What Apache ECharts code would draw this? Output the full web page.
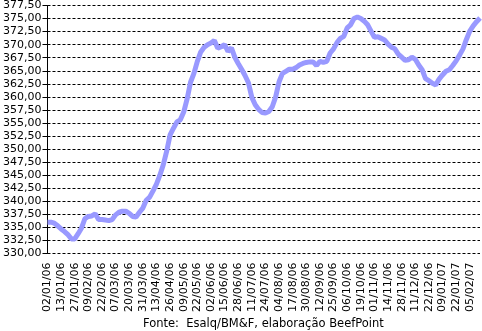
<!DOCTYPE html>
<html>
<head>
<meta charset="utf-8">
<script src="https://cdn.jsdelivr.net/npm/echarts@6/dist/echarts.min.js"></script>
<style>
  html, body { margin: 0; padding: 0; background: #fff; }
  #myChart { width: 482px; height: 331px; }
</style>
</head>
<body>
<div id="myChart"></div>
<script>
// tick labels on the date axis (one every 4 points)
var tickLabels = ['02/01/06', '13/01/06', '27/01/06', '09/02/06', '22/02/06', '07/03/06', '20/03/06',
  '31/03/06', '13/04/06', '26/04/06', '09/05/06', '22/05/06', '02/06/06', '15/06/06', '28/06/06',
  '11/07/06', '24/07/06', '04/08/06', '17/08/06', '30/08/06', '12/09/06', '25/09/06', '06/10/06',
  '19/10/06', '01/11/06', '14/11/06', '28/11/06', '11/12/06', '22/12/06', '09/01/07', '22/01/07',
  '05/02/07']
var pointsPerTick = 4

// price series (4 readings per labelled date)
var prices = [
  336.0, 336.0, 335.8, 335.3, 334.7, 334.2, 333.6, 332.8, 332.8, 333.8,
  334.9, 336.7, 337.1, 337.2, 337.6, 336.5, 336.5, 336.4, 336.3, 336.5,
  337.4, 337.9, 338.1, 338.1, 337.7, 337.1, 337.0, 337.9, 338.7, 340.2,
  340.8, 342.0, 343.3, 345.0, 347.0, 349.6, 352.7, 354.0, 355.2, 355.6,
  357.1, 359.6, 362.8, 364.5, 366.8, 368.6, 369.5, 370.0, 370.3, 370.8,
  369.3, 369.6, 370.0, 368.7, 369.4, 367.6, 366.4, 365.3, 364.1, 362.7,
  359.9, 358.5, 357.6, 357.0, 356.9, 357.2, 358.1, 360.0, 362.9, 364.5,
  364.9, 365.3, 365.3, 365.6, 366.1, 366.4, 366.6, 366.7, 366.7, 366.0,
  366.8, 366.6, 366.8, 368.4, 369.2, 370.4, 371.2, 371.6, 373.2, 373.8,
  375.0, 375.3, 375.0, 374.5, 373.8, 372.6, 371.4, 371.5, 371.2, 370.9,
  370.1, 369.5, 369.2, 368.2, 367.6, 367.0, 367.1, 367.6, 367.2, 366.1,
  365.2, 363.5, 363.1, 362.6, 362.3, 363.4, 364.2, 364.9, 365.2, 366.0,
  366.9, 368.0, 369.2, 371.0, 372.6, 373.6, 374.4, 375.1
]

var sourceText = 'Fonte:  Esalq/BM&F, elaboração BeefPoint'

// one category per point, label only on every 4th
var categories = []
tickLabels.forEach(function (lab) {
  categories.push(lab)
  for (var k = 1; k < pointsPerTick; k++) categories.push('')
})

var font = 'DejaVu Sans, Verdana, sans-serif'

var option = {
  animation: false,
  backgroundColor: '#fff',
  grid: { left: 45, right: 2, top: 4, bottom: 77.5, containLabel: false },
  xAxis: {
    type: 'category',
    boundaryGap: false,
    data: categories,
    axisLine: { show: false },
    axisTick: { show: false },
    axisLabel: {
      interval: pointsPerTick - 1,
      rotate: 90,
      margin: 9,
      color: '#000',
      fontFamily: font,
      fontSize: 11
    },
    splitLine: { show: false }
  },
  yAxis: {
    type: 'value',
    min: 330,
    max: 377.5,
    interval: 2.5,
    axisLine: { show: true, lineStyle: { color: '#000', width: 1 } },
    axisTick: { show: true, length: 5, lineStyle: { color: '#000' } },
    axisLabel: {
      margin: 6,
      color: '#000',
      fontFamily: font,
      fontSize: 11,
      formatter: function (v) { return v.toFixed(2).replace('.', ',') }
    },
    splitLine: {
      show: true,
      lineStyle: { color: '#000', width: 1, type: [3, 2] }
    }
  },
  series: [{
    type: 'line',
    data: prices,
    showSymbol: false,
    lineStyle: { color: '#9999ff', width: 5 },
    z: 3
  }],
  graphic: [{
    type: 'text',
    left: 143,
    top: 318,
    style: {
      text: sourceText,
      fill: '#000',
      font: '11.5px ' + font
    }
  }]
}

var myChart = echarts.init(document.getElementById('myChart'))
myChart.setOption(option)
</script>
</body>
</html>
